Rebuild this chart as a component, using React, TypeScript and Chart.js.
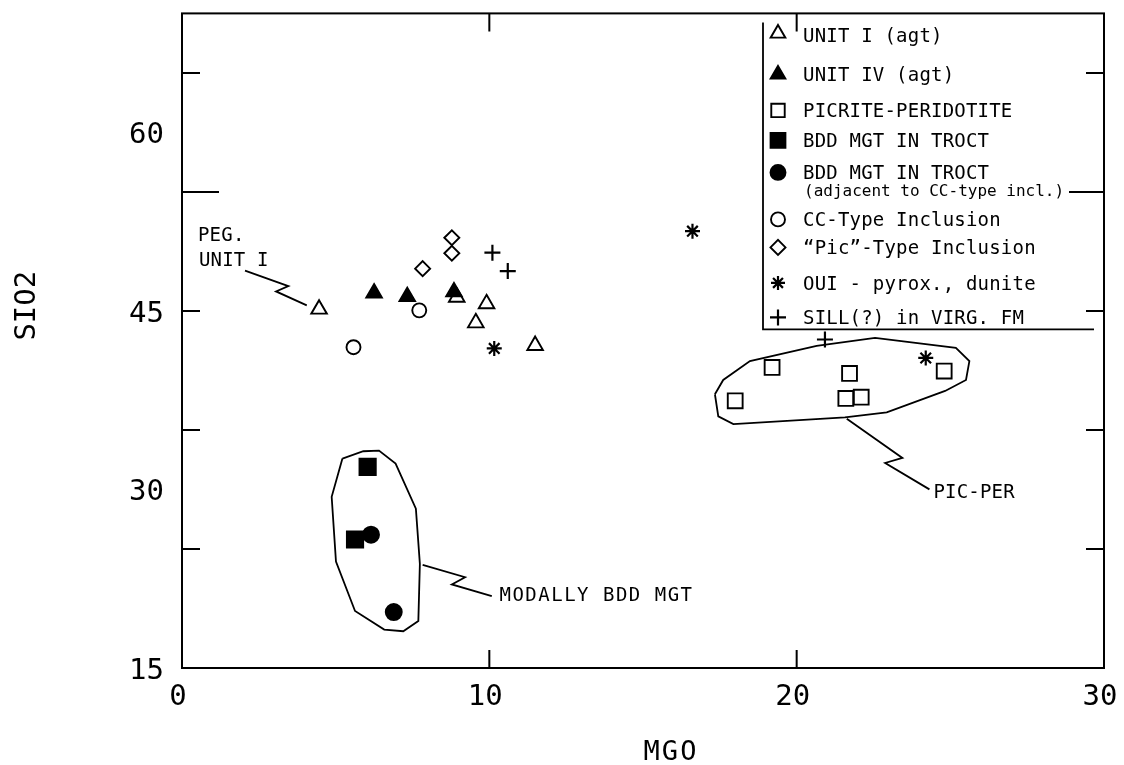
import React, { useEffect, useRef } from 'react';
import { Chart, registerables } from 'chart.js';
import { drawPoint } from 'chart.js/helpers';

Chart.register(...registerables);

const FONT = "'DejaVu Sans Mono', 'DejaVu Sans', monospace";

// ---- axes ----
const xMin = 0;
const xMax = 30;
const yMin = 15;
const yMax = 70;
const xTickLabels = [0, 10, 20, 30];
const yTickLabels = [15, 30, 45, 60];
const xTickMarks = [10, 20];
const yTickMarks = [25, 35, 45, 55, 65];
const yLongTick = 55;
const xTitle = 'MGO';
const yTitle = 'SIO2';

// ---- series (MgO, SiO2) ----
const unit1MgO = [4.46, 8.94, 9.91, 9.56, 11.49];
const unit1SiO2 = [45.15, 46.15, 45.6, 44.0, 42.1];

const unit4MgO = [6.25, 7.33, 8.85];
const unit4SiO2 = [46.5, 46.2, 46.6];

const picriteMgO = [18.0, 19.2, 21.72, 21.6, 22.1, 24.8];
const picriteSiO2 = [37.45, 40.25, 39.75, 37.65, 37.75, 39.95];

const bddSqMgO = [6.04, 5.63];
const bddSqSiO2 = [31.9, 25.8];

const bddCircMgO = [6.15, 6.89];
const bddCircSiO2 = [26.2, 19.7];

const ccMgO = [7.72, 5.58];
const ccSiO2 = [45.05, 41.95];

const picMgO = [8.78, 8.78, 7.83];
const picSiO2 = [51.15, 49.85, 48.55];

const ouiMgO = [10.16, 16.61, 24.2];
const ouiSiO2 = [41.85, 51.7, 41.05];

const sillMgO = [10.1, 10.6, 20.92];
const sillSiO2 = [49.9, 48.35, 42.6];

const seriesLabels = [
  'UNIT I (agt)',
  'UNIT IV (agt)',
  'PICRITE-PERIDOTITE',
  'BDD MGT IN TROCT',
  'BDD MGT IN TROCT',
  'CC-Type Inclusion',
  '\u201CPic\u201D-Type Inclusion',
  'OUI - pyrox., dunite',
  'SILL(?) in VIRG. FM',
];
const seriesSubLabel = '(adjacent to CC-type incl.)';

// ---- outlines & callouts (data units) ----
const bddOutlineMgO = [5.22, 5.9, 6.41, 6.95, 7.61, 7.74, 7.69, 7.2, 6.58, 5.63, 5.01, 4.87, 5.22];
const bddOutlineSiO2 = [32.6, 33.21, 33.27, 32.18, 28.39, 23.75, 18.95, 18.09, 18.23, 19.79, 23.94, 29.39, 32.6];
const bddCalloutMgO = [7.83, 9.21, 8.78, 10.08];
const bddCalloutSiO2 = [23.66, 22.63, 22.02, 21.04];

const picOutlineMgO = [17.34, 17.61, 18.48, 20.65, 22.55, 25.18, 25.62, 25.51, 24.83, 22.93, 21.57, 17.94, 17.45, 17.34];
const picOutlineSiO2 = [38.0, 39.2, 40.79, 42.07, 42.74, 41.9, 40.79, 39.2, 38.28, 36.47, 36.05, 35.49, 36.14, 38.0];
const picCalloutMgO = [21.63, 23.44, 22.88, 24.32];
const picCalloutSiO2 = [35.94, 32.65, 32.23, 30.01];

const pegCalloutMgO = [2.05, 3.46, 3.06, 4.06];
const pegCalloutSiO2 = [48.39, 47.08, 46.64, 45.47];

const noteTexts = ['PEG.', 'UNIT I', 'MODALLY BDD MGT', 'PIC-PER'];
const noteMgO = [0.52, 0.55, 10.33, 24.45];
const noteSiO2 = [51.42, 49.33, 21.24, 29.85];

const pts = (xs: number[], ys: number[]) => xs.map((x, i) => ({ x, y: ys[i] }));

export default function App() {
  const ref = useRef<HTMLCanvasElement | null>(null);

  useEffect(() => {
    const canvas = ref.current;
    if (!canvas) return;

    const black = '#000';
    const clear = 'rgba(0,0,0,0)';

    const marker = (
      label: string,
      data: any[],
      pointStyle: string,
      radius: number,
      filled: boolean,
      legendRadius: number,
      borderWidth = 1.9
    ) => ({
      label,
      data,
      showLine: false,
      pointStyle,
      pointRadius: radius,
      pointBorderWidth: borderWidth,
      pointBorderColor: black,
      pointBackgroundColor: filled ? black : clear,
      borderColor: black,
      backgroundColor: filled ? black : clear,
      legendRadius,
      isMarker: true,
    });

    const outline = (data: any[]) => ({
      label: '',
      data,
      showLine: true,
      pointRadius: 0,
      borderColor: black,
      borderWidth: 1.8,
      fill: false,
      tension: 0,
      isMarker: false,
    });

    const datasets: any[] = [
      marker(seriesLabels[0], pts(unit1MgO, unit1SiO2), 'triangle', 9, false, 8.5),
      marker(seriesLabels[1], pts(unit4MgO, unit4SiO2), 'triangle', 9, true, 8.5),
      marker(seriesLabels[2], pts(picriteMgO, picriteSiO2), 'rect', 10.5, false, 9.5),
      marker(seriesLabels[3], pts(bddSqMgO, bddSqSiO2), 'rect', 11.5, true, 10.5),
      marker(seriesLabels[4], pts(bddCircMgO, bddCircSiO2), 'circle', 8, true, 7.5),
      marker(seriesLabels[5], pts(ccMgO, ccSiO2), 'circle', 7, false, 7),
      marker(seriesLabels[6], pts(picMgO, picSiO2), 'rectRot', 7.5, false, 7.5),
      marker(seriesLabels[7], pts(ouiMgO, ouiSiO2), 'star', 7.5, false, 7, 2.2),
      marker(seriesLabels[8], pts(sillMgO, sillSiO2), 'cross', 8, false, 8, 2.2),
      outline(pts(bddOutlineMgO, bddOutlineSiO2)),
      outline(pts(bddCalloutMgO, bddCalloutSiO2)),
      outline(pts(picOutlineMgO, picOutlineSiO2)),
      outline(pts(picCalloutMgO, picCalloutSiO2)),
      outline(pts(pegCalloutMgO, pegCalloutSiO2)),
    ];

    const text = (
      ctx: CanvasRenderingContext2D,
      s: string,
      x: number,
      yCenter: number,
      size: number,
      align: CanvasTextAlign,
      spacing = 0
    ) => {
      ctx.font = `${size}px ${FONT}`;
      ctx.textAlign = align;
      ctx.textBaseline = 'alphabetic';
      (ctx as any).letterSpacing = `${spacing}px`;
      ctx.fillText(s, x, yCenter + size * 0.3645);
      (ctx as any).letterSpacing = '0px';
    };

    const legendRows = [22, 61, 97, 127, 159, 206, 234, 269.5, 304];
    const legendSubRow = 177;

    const decor = {
      id: 'decor',
      afterDraw(chart: any) {
        const { ctx, chartArea: a } = chart;
        const xs = chart.scales.x;
        const ys = chart.scales.y;
        ctx.save();
        ctx.strokeStyle = black;
        ctx.fillStyle = black;

        // frame
        ctx.lineWidth = 2;
        ctx.strokeRect(a.left, a.top, a.right - a.left, a.bottom - a.top);

        // inward tick marks
        ctx.beginPath();
        for (const v of yTickMarks) {
          const py = ys.getPixelForValue(v);
          const lenL = v === yLongTick ? 37 : 18;
          const lenR = v === yLongTick ? 35 : 18;
          ctx.moveTo(a.left, py);
          ctx.lineTo(a.left + lenL, py);
          ctx.moveTo(a.right, py);
          ctx.lineTo(a.right - lenR, py);
        }
        for (const v of xTickMarks) {
          const px = xs.getPixelForValue(v);
          ctx.moveTo(px, a.bottom);
          ctx.lineTo(px, a.bottom - 18);
          ctx.moveTo(px, a.top);
          ctx.lineTo(px, a.top + 18);
        }
        ctx.stroke();

        // tick labels
        for (const v of yTickLabels) {
          text(ctx, String(v), a.left - 18, ys.getPixelForValue(v), 29, 'right');
        }
        for (const v of xTickLabels) {
          text(ctx, String(v), xs.getPixelForValue(v) - 4, a.bottom + 26, 29, 'center');
        }

        // axis titles
        text(ctx, xTitle, (a.left + a.right) / 2 + 28, a.bottom + 82, 27, 'center', 2);
        ctx.save();
        ctx.translate(24, (a.top + a.bottom) / 2 - 35);
        ctx.rotate(-Math.PI / 2);
        text(ctx, yTitle, 0, 0, 29, 'center');
        ctx.restore();

        // annotations
        noteTexts.forEach((s, i) => {
          text(
            ctx,
            s,
            xs.getPixelForValue(noteMgO[i]),
            ys.getPixelForValue(noteSiO2[i]),
            19,
            'left',
            i === 2 ? 1.5 : 0.2
          );
        });

        // legend box
        const lx = a.right - 341;
        const lb = a.top + 316;
        ctx.lineWidth = 1.8;
        ctx.beginPath();
        ctx.moveTo(lx, a.top + 9);
        ctx.lineTo(lx, lb);
        ctx.lineTo(a.right - 10, lb);
        ctx.stroke();

        const markerSets = chart.data.datasets.filter((d: any) => d.isMarker);
        markerSets.forEach((d: any, i: number) => {
          const cy = a.top + legendRows[i];
          const sx = lx + 15;
          ctx.save();
          ctx.fillStyle = d.pointBackgroundColor;
          ctx.strokeStyle = black;
          ctx.lineWidth = d.pointBorderWidth;
          drawPoint(
            ctx,
            {
              pointStyle: d.pointStyle,
              rotation: 0,
              radius: d.legendRadius,
              borderWidth: d.pointBorderWidth,
            } as any,
            sx,
            i === 0 ? cy - 2 : cy
          );
          ctx.restore();
          ctx.fillStyle = black;
          text(ctx, d.label, lx + 40, cy, 19, 'left', 0.2);
        });
        text(ctx, seriesSubLabel, lx + 41, a.top + legendSubRow, 16, 'left');

        ctx.restore();
      },
    };

    const chart = new Chart(canvas, {
      type: 'scatter',
      data: { datasets },
      options: {
        responsive: false,
        animation: false,
        events: [],
        layout: { padding: { left: 182, right: 20, top: 11, bottom: 97 } },
        plugins: {
          legend: { display: false },
          tooltip: { enabled: false },
          title: { display: false },
        },
        scales: {
          x: { type: 'linear', min: xMin, max: xMax, display: false },
          y: { type: 'linear', min: yMin, max: yMax, display: false },
        },
      },
      plugins: [decor],
    } as any);

    return () => chart.destroy();
  }, []);

  return (
    <div style={{ position: 'fixed', left: 0, top: 0, width: 1124, height: 765, background: '#fff' }}>
      <canvas ref={ref} width={1124} height={765} style={{ display: 'block' }} />
    </div>
  );
}
